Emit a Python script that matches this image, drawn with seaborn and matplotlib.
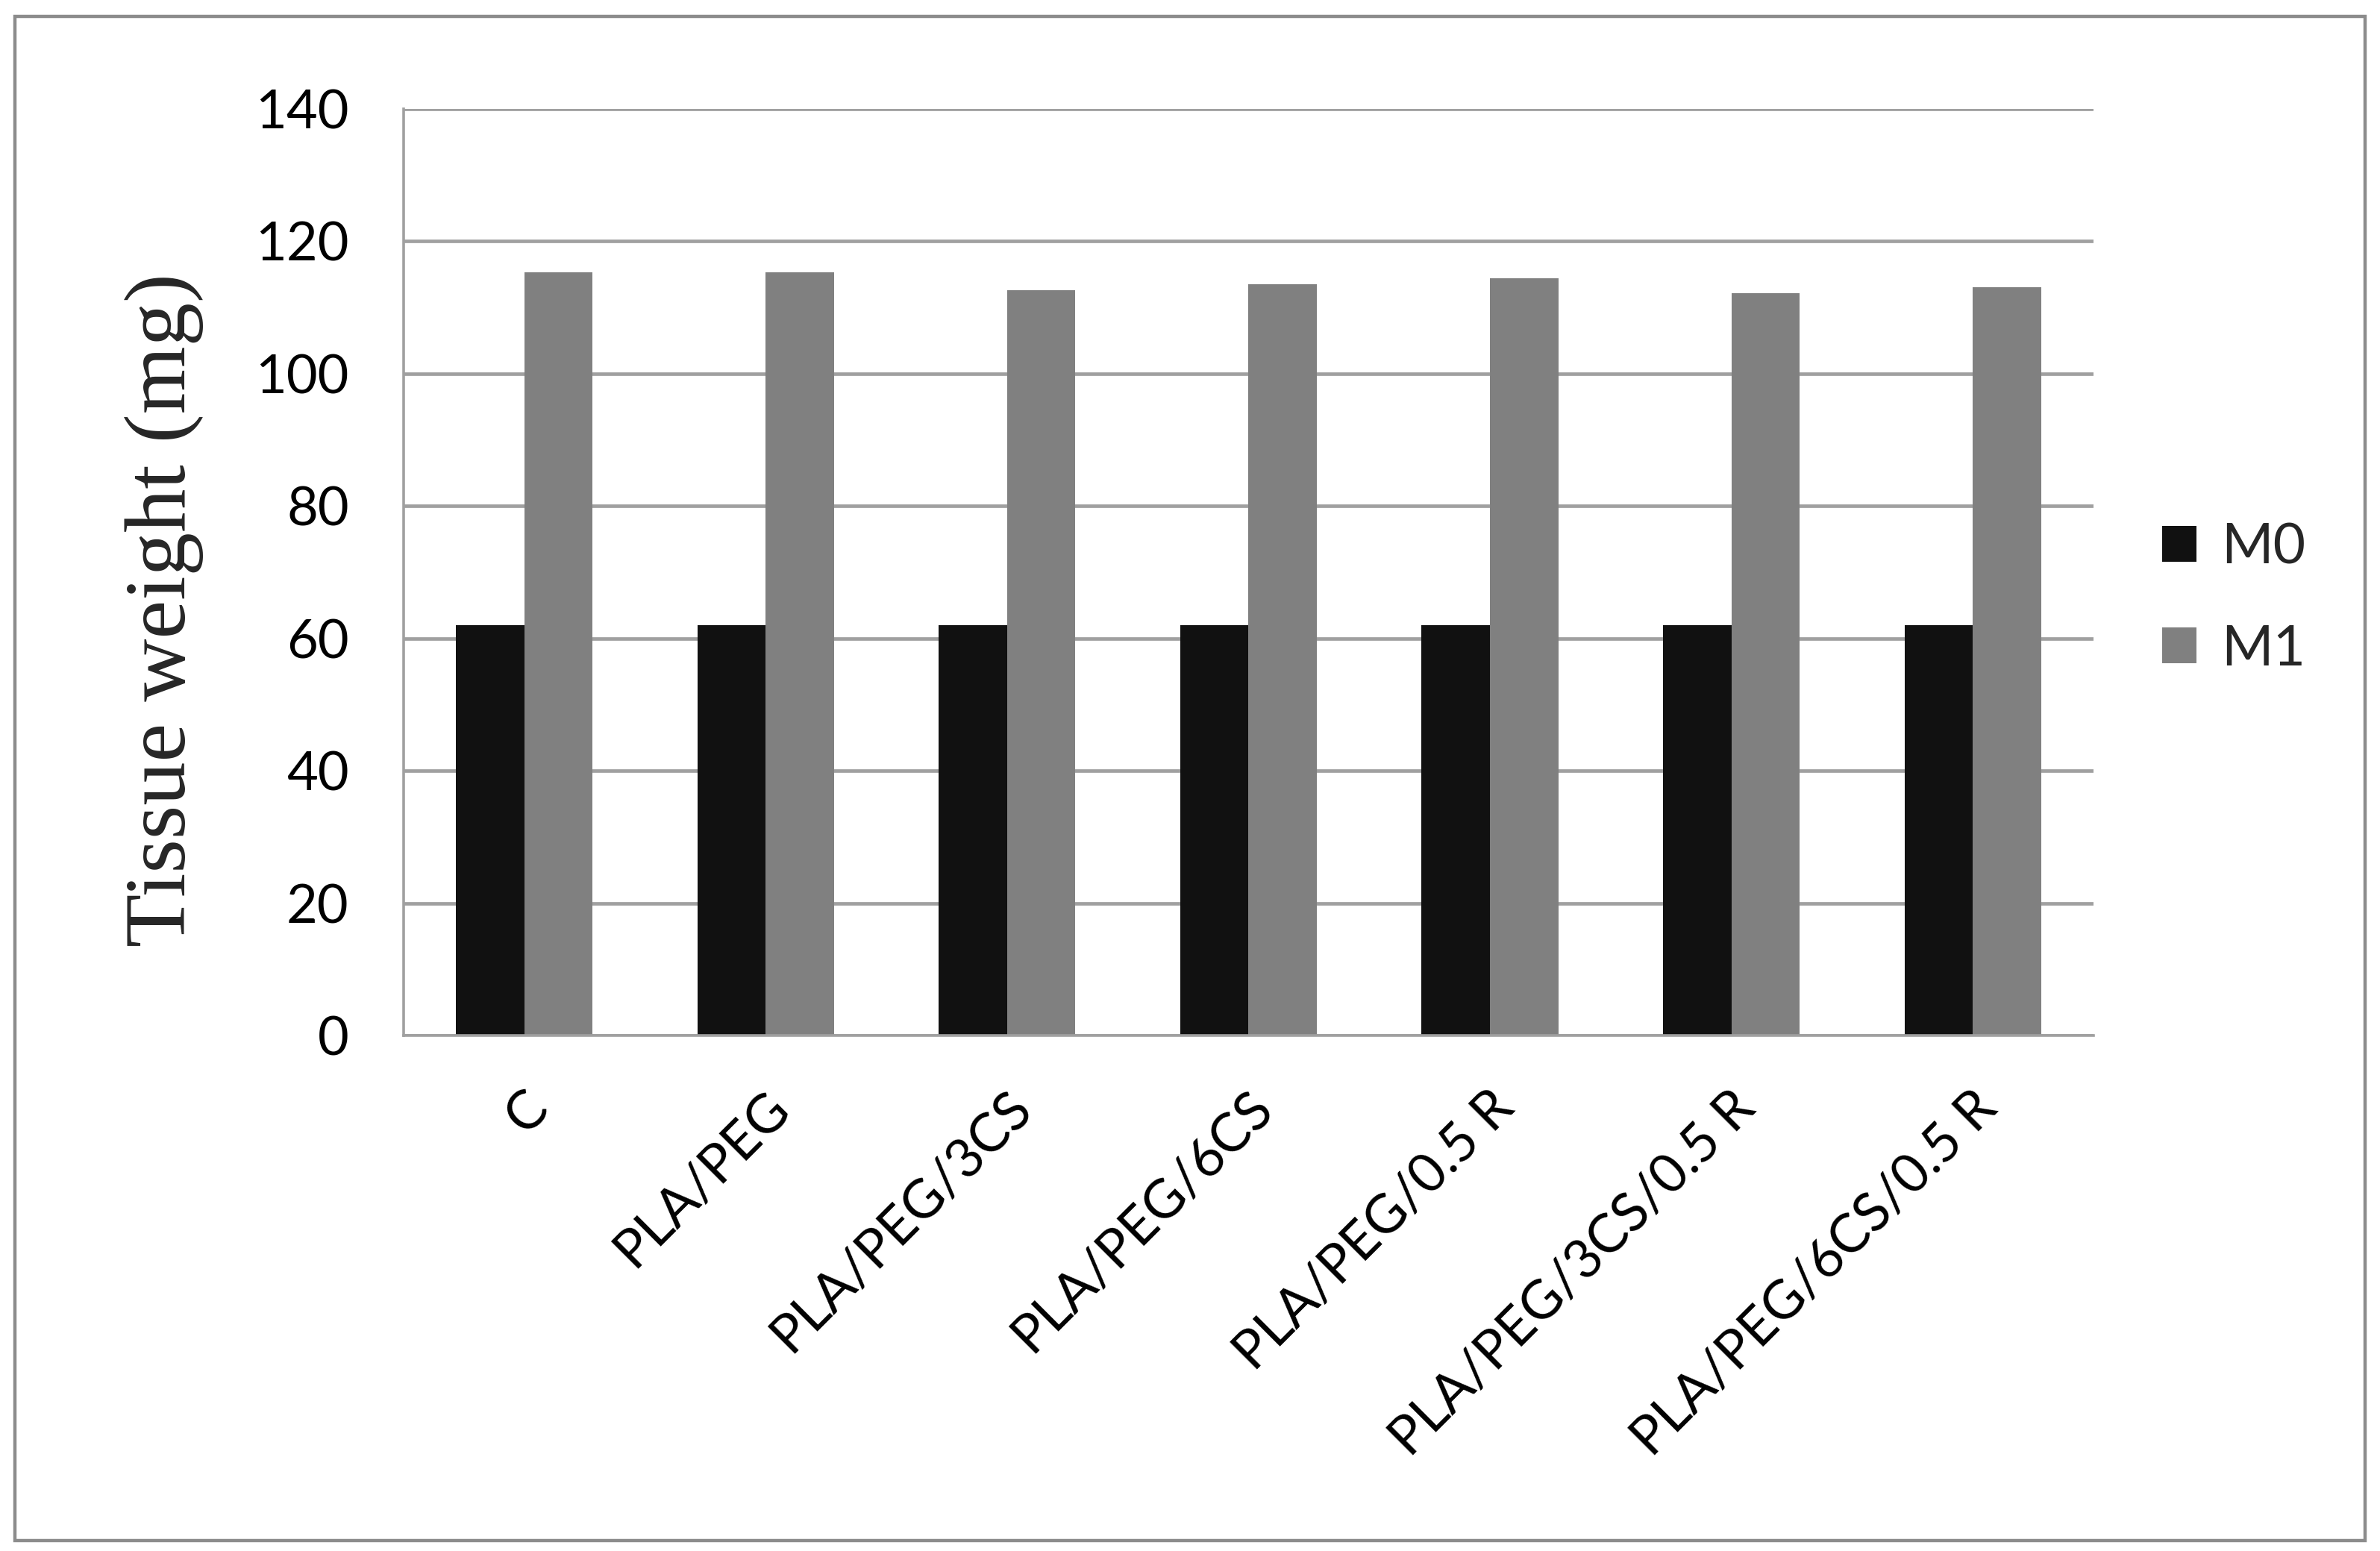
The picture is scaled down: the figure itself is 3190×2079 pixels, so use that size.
import pandas as pd
import matplotlib
matplotlib.use("Agg")
import matplotlib.pyplot as plt
import matplotlib.transforms as mtransforms
from matplotlib.patches import Patch, Rectangle
import seaborn as sns

# Tissue weight per scaffold group
groups = ["C", "PLA/PEG", "PLA/PEG/3CS", "PLA/PEG/6CS", "PLA/PEG/0.5 R",
          "PLA/PEG/3CS/0.5 R", "PLA/PEG/6CS/0.5 R"]
m0 = [62, 62, 62, 62, 62, 62, 62]
m1 = [115.3, 115.3, 112.6, 113.5, 114.4, 112.2, 113.1]
series = ["M0", "M1"]
colors = ["#111111", "#808080"]

df = pd.DataFrame({
    "group": groups * 2,
    "weight": m0 + m1,
    "series": ["M0"] * len(groups) + ["M1"] * len(groups),
})

sns.set_style("white")
plt.rcParams["font.family"] = ["Lato", "DejaVu Sans"]

fig = plt.figure(figsize=(15.95, 10.395), dpi=200)
ax = fig.add_axes([0.1696, 0.3324, 0.8796 - 0.1696, 0.9298 - 0.3324])

sns.barplot(data=df, x="group", y="weight", hue="series", palette=colors,
            order=groups, hue_order=series, width=0.566, gap=0, saturation=1,
            edgecolor="none", linewidth=0, ax=ax, legend=False, zorder=3)

grid_c = "#a0a0a0"
ax.set_ylim(0, 140)
ax.set_xlim(-0.5, len(groups) - 0.5)
ax.set_yticks(range(0, 141, 20))
ax.yaxis.grid(True, color=grid_c, linewidth=1.7, zorder=0)
ax.set_axisbelow(True)

for s in ["top", "right"]:
    ax.spines[s].set_visible(False)
for s in ["left", "bottom"]:
    ax.spines[s].set_color(grid_c)
    ax.spines[s].set_linewidth(1.3)
    ax.spines[s].set_zorder(4)

ax.tick_params(axis="y", length=10.4, width=1.3, color=grid_c, direction="out",
               pad=16, labelsize=26, labelcolor="black")
ax.tick_params(axis="x", which="major", length=0, pad=31, labelsize=26, labelcolor="black")
ax.set_xticks([i - 0.5 for i in range(len(groups) + 1)], minor=True)
ax.tick_params(axis="x", which="minor", length=10.4, width=1.3, color=grid_c, direction="out")

shift = mtransforms.ScaledTranslation(0.105, 0, fig.dpi_scale_trans)
for lab in ax.get_xticklabels():
    lab.set_rotation(45)
    lab.set_ha("right")
    lab.set_va("center")
    lab.set_rotation_mode("anchor")
    lab.set_transform(lab.get_transform() + shift)

ax.set_xlabel("")
ax.set_ylabel("")
fig.text(220 / 3190, 1 - 818 / 2079, "Tissue weight (mg)", rotation=90,
         ha="center", va="center", fontsize=42, family=["Liberation Serif"])

handles = [Patch(facecolor=c, edgecolor="none") for c in colors]
fig.legend(handles, series, loc="center left",
           bbox_to_anchor=(2898 / 3190, 1 - 802 / 2079), frameon=False,
           fontsize=27, handlelength=0.61, handleheight=0.61,
           handletextpad=0.45, labelspacing=0.9, borderpad=0, borderaxespad=0)

fig.patches.append(Rectangle((20 / 3190, 1 - 2065 / 2079), 3150 / 3190, (2065 - 22) / 2079,
                             transform=fig.transFigure, fill=False,
                             edgecolor="#8c8c8c", linewidth=1.6))

fig.savefig("out.png", dpi=200)
